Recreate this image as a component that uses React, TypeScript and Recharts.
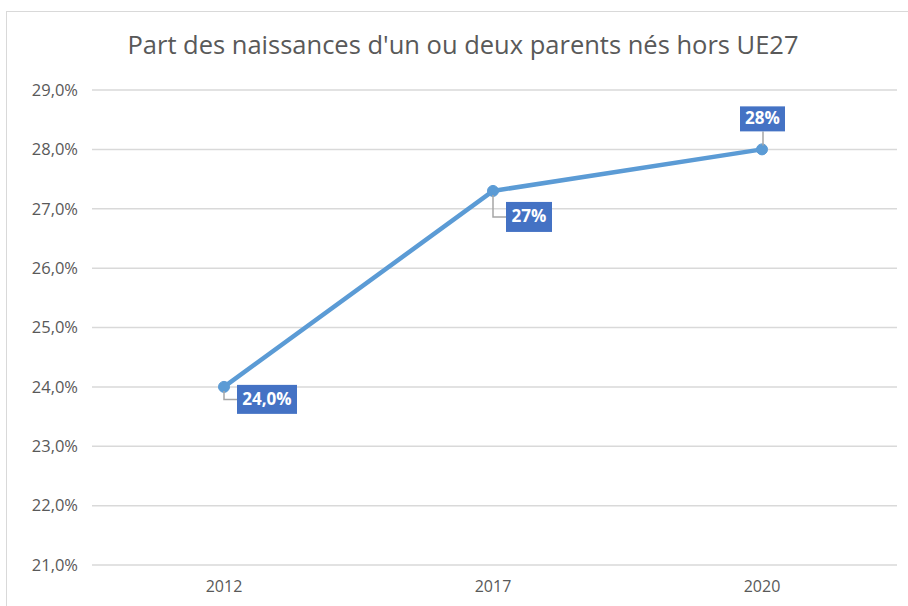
import { LineChart, Line, XAxis, YAxis, CartesianGrid, LabelList } from "recharts";

const years = ["2012", "2017", "2020"];
const shares = [24.0, 27.3, 28.0];
const shareLabels = ["24,0%", "27%", "28%"];
const yTicks = [21, 22, 23, 24, 25, 26, 27, 28, 29];

const data = years.map((year, i) => ({ year, share: shares[i], label: shareLabels[i] }));

// label box placement relative to each point (like the excel callouts)
const boxes = [
  { dx: 13, dy: -2, w: 60, h: 29, leader: "side" },
  { dx: 13, dy: 11, w: 46, h: 30, leader: "side" },
  { dx: -22, dy: -43, w: 45, h: 25, leader: "up" },
];

const fmtPct = (v: number) => v.toFixed(1).replace(".", ",") + "%";

function Callout(props: any) {
  const { x, y, index, value } = props;
  const b = boxes[index];
  const bx = x + b.dx;
  const by = y + b.dy;
  const midY = by + b.h / 2;
  return (
    <g>
      {b.leader === "side" ? (
        <polyline
          points={`${x},${y + 4} ${x},${midY} ${bx},${midY}`}
          fill="none"
          stroke="#a6a6a6"
          strokeWidth={1.5}
        />
      ) : (
        <line x1={x + 1} y1={by + b.h} x2={x + 1} y2={y - 4} stroke="#a6a6a6" strokeWidth={1.5} />
      )}
      <rect x={bx} y={by} width={b.w} height={b.h} fill="#4472c4" />
      <text
        x={bx + b.w / 2}
        y={midY + 1}
        textAnchor="middle"
        dominantBaseline="middle"
        fill="#ffffff"
        fontWeight="bold"
        fontSize={17}
        fontFamily="'Open Sans', sans-serif"
      >
        {value}
      </text>
    </g>
  );
}

export default function App() {
  return (
    <div style={{ position: "relative", width: 908, height: 606, overflow: "hidden", background: "#fff" }}>
      <style>{"body{margin:0}"}</style>
      <div
        style={{
          position: "absolute",
          left: 6,
          top: 11,
          width: 1000,
          height: 700,
          border: "1.5px solid #d9d9d9",
        }}
      />
      <div
        style={{
          position: "absolute",
          left: 0,
          top: 27,
          width: 926,
          textAlign: "center",
          fontFamily: "'Open Sans', sans-serif",
          fontSize: 25.5,
          color: "#595959",
        }}
      >
        Part des naissances d'un ou deux parents nés hors UE27
      </div>
      <div style={{ position: "absolute", left: 0, top: 0 }}>
        <LineChart width={908} height={606} data={data} margin={{ top: 90, right: 11, bottom: 0, left: 0 }}>
          <CartesianGrid vertical={false} stroke="#d9d9d9" strokeWidth={1.5} />
          <XAxis
            dataKey="year"
            axisLine={false}
            tickLine={false}
            tickSize={0}
            tickMargin={16}
            height={41}
            padding={{ left: 132, right: 135 }}
            tick={{ fill: "#595959", fontSize: 16, fontFamily: "'Open Sans', sans-serif" }}
          />
          <YAxis
            domain={[21, 29]}
            ticks={yTicks}
            interval={0}
            width={92}
            axisLine={false}
            tickLine={false}
            tickSize={0}
            tickMargin={14}
            tickFormatter={fmtPct}
            tick={{ fill: "#595959", fontSize: 16.5, fontFamily: "'Open Sans', sans-serif" }}
          />
          <Line
            dataKey="share"
            stroke="#5b9bd5"
            strokeWidth={4.5}
            dot={{ r: 5.5, fill: "#5b9bd5", stroke: "#5b9bd5", strokeWidth: 1 }}
            isAnimationActive={false}
          >
            <LabelList dataKey="label" content={<Callout />} />
          </Line>
        </LineChart>
      </div>
    </div>
  );
}
